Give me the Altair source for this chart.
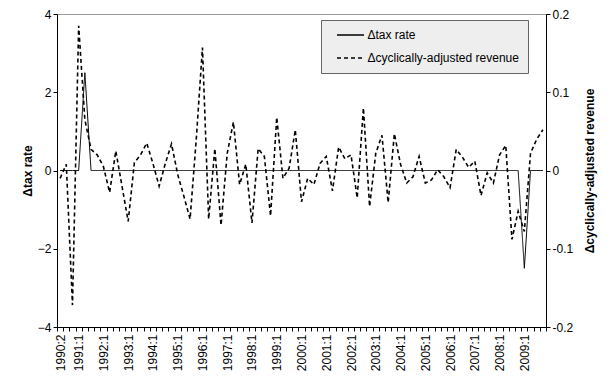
import altair as alt
import pandas as pd

quarters = ["1990:2", "1990:3", "1990:4"] + [f"{y}:{q}" for y in range(1991, 2010) for q in range(1, 5)]
tick_labels = ["1990:2"] + [f"{y}:1" for y in range(1991, 2010)]

tax_rate = [
    0, 0, 0, 0, 2.5, 0, 0, 0, 0, 0,
    0, 0, 0, 0, 0, 0, 0, 0, 0, 0,
    0, 0, 0, 0, 0, 0, 0, 0, 0, 0,
    0, 0, 0, 0, 0, 0, 0, 0, 0, 0,
    0, 0, 0, 0, 0, 0, 0, 0, 0, 0,
    0, 0, 0, 0, 0, 0, 0, 0, 0, 0,
    0, 0, 0, 0, 0, 0, 0, 0, 0, 0,
    0, 0, 0, 0, 0, -2.5, 0, 0, 0,
]

revenue = [
    -0.010, 0.008, -0.172, 0.185, 0.065, 0.027, 0.020, 0.005, -0.028, 0.025,
    -0.020, -0.065, 0.010, 0.020, 0.035, 0.009, -0.020, 0.009, 0.034, -0.005,
    -0.033, -0.062, 0.040, 0.157, -0.062, 0.028, -0.070, 0.022, 0.062, -0.018,
    0.008, -0.067, 0.028, 0.018, -0.058, 0.068, -0.010, 0.003, 0.052, -0.040,
    -0.010, -0.018, 0.009, 0.018, -0.026, 0.030, 0.015, 0.020, -0.035, 0.080,
    -0.046, 0.022, 0.045, -0.041, 0.047, 0.008, -0.016, -0.008, 0.018, -0.016,
    -0.012, 0.001, -0.008, -0.022, 0.027, 0.017, 0.004, 0.012, -0.032, -0.003,
    -0.016, 0.020, 0.032, -0.088, -0.052, -0.078, 0.022, 0.040, 0.052,
]

series_names = ["\u0394tax rate", "\u0394cyclically-adjusted revenue"]

df_tax = pd.DataFrame({"quarter": quarters, "value": tax_rate, "series": series_names[0]})
df_rev = pd.DataFrame({"quarter": quarters, "value": revenue, "series": series_names[1]})

label_list = "[" + ",".join(f"'{t}'" for t in tick_labels) + "]"

FS = 12

x_enc = alt.X(
    "quarter:O",
    sort=quarters,
    scale=alt.Scale(type="band", paddingInner=0, paddingOuter=0),
    axis=alt.Axis(
        title=None,
        labelAngle=-90,
        labelExpr=f"indexof({label_list}, datum.value) >= 0 ? datum.value : ''",
        tickBand="extent",
        tickSize=4,
        labelPadding=3,
        domainColor="black",
        tickColor="black",
        labelColor="black",
        labelFontSize=FS,
        labelOverlap=False,
    ),
)

dash = alt.StrokeDash(
    "series:N",
    scale=alt.Scale(domain=series_names, range=[[1, 0], [4, 3]]),
    legend=alt.Legend(
        title=None,
        orient="none",
        legendX=264,
        legendY=6,
        fillColor="#eeeeee",
        strokeColor="#666666",
        padding=9,
        symbolType="M-13.5,0L13.5,0",
        symbolStrokeColor="black",
        symbolFillColor="transparent",
        symbolStrokeWidth=1.5,
        symbolSize=4,
        symbolOffset=14.5,
        rowPadding=11,
        labelFontSize=FS,
        labelColor="black",
        labelOffset=11,
    ),
)

tax = alt.Chart(df_tax).mark_line(color="black", strokeWidth=1).encode(
    x=x_enc,
    y=alt.Y(
        "value:Q",
        scale=alt.Scale(domain=[-4, 4], nice=False, zero=False),
        axis=alt.Axis(
            title="\u0394tax rate",
            orient="left",
            values=[-4, -2, 0, 2, 4],
            grid=False,
            tickSize=4,
            domainColor="black",
            tickColor="black",
            labelColor="black",
            titleColor="black",
            labelFontSize=FS,
            titleFontSize=FS,
            titleFontWeight="bold",
            titlePadding=3,
        ),
    ),
    strokeDash=dash,
)

rev = alt.Chart(df_rev).mark_line(color="black", strokeWidth=1.6).encode(
    x=x_enc,
    y=alt.Y(
        "value:Q",
        scale=alt.Scale(domain=[-0.2, 0.2], nice=False, zero=False),
        axis=alt.Axis(
            title="\u0394cyclically-adjusted revenue",
            orient="right",
            values=[-0.2, -0.1, 0, 0.1, 0.2],
            labelExpr="'' + datum.value",
            grid=False,
            tickSize=4,
            domainColor="black",
            tickColor="black",
            labelColor="black",
            titleColor="black",
            labelFontSize=FS,
            titleFontSize=FS,
            titleFontWeight="bold",
            titleAngle=270,
            titleBaseline="top",
            titlePadding=12,
        ),
    ),
    strokeDash=dash,
)

chart = (
    alt.layer(rev, tax)
    .resolve_scale(y="independent")
    .properties(
        width=489,
        height=313,
        autosize=alt.AutoSizeParams(type="none"),
        padding={"left": 49, "top": 6, "right": 60, "bottom": 46},
    )
    .configure(font="Liberation Sans")
    .configure_view(stroke="#999999")
    .configure_axis(labelFont="Liberation Sans", titleFont="Liberation Sans")
    .configure_legend(labelFont="Liberation Sans")
)

chart.save("out.html", embed_options={"renderer": "svg", "actions": False})
